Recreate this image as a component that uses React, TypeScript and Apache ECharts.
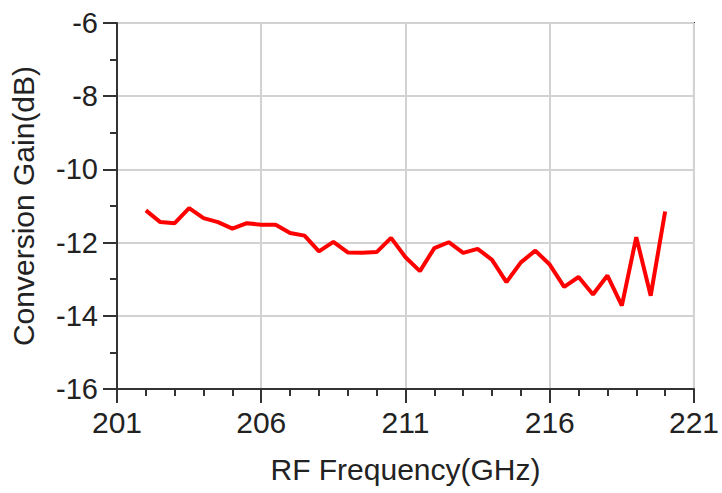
import React, { useEffect, useRef } from "react";
import * as echarts from "echarts";

const frequencies = [
  202, 202.5, 203, 203.5, 204, 204.5, 205, 205.5, 206, 206.5, 207, 207.5, 208,
  208.5, 209, 209.5, 210, 210.5, 211, 211.5, 212, 212.5, 213, 213.5, 214, 214.5,
  215, 215.5, 216, 216.5, 217, 217.5, 218, 218.5, 219, 219.5, 220,
];
const gains = [
  -11.12, -11.44, -11.47, -11.06, -11.33, -11.44, -11.62, -11.47, -11.51, -11.51,
  -11.74, -11.81, -12.24, -11.98, -12.27, -12.28, -12.26, -11.87, -12.4, -12.78,
  -12.15, -11.99, -12.28, -12.17, -12.47, -13.08, -12.54, -12.22, -12.6, -13.21,
  -12.94, -13.42, -12.9, -13.72, -11.85, -13.45, -11.15,
];
const xRange = [201, 221];
const yRange = [-16, -6];
const xTitle = "RF Frequency(GHz)";
const yTitle = "Conversion Gain(dB)";

const FONT = "'Liberation Sans', Arial, Helvetica, sans-serif";

export default function App() {
  const ref = useRef<HTMLDivElement>(null);
  useEffect(() => {
    document.body.style.margin = "0";
    if (!ref.current) return;
    const chart = echarts.init(ref.current, undefined, { renderer: "svg" });
    const axisColor = "#333333";
    chart.setOption({
      animation: false,
      backgroundColor: "#ffffff",
      grid: {
        left: 116,
        right: 22.5,
        top: 23,
        bottom: 104,
        show: true,
        borderColor: axisColor,
        borderWidth: 2,
        backgroundColor: "transparent",
      },
      xAxis: {
        type: "value",
        min: xRange[0],
        max: xRange[1],
        interval: 5,
        name: xTitle,
        nameLocation: "middle",
        nameGap: 65,
        nameTextStyle: { fontFamily: FONT, fontSize: 30, color: "#222" },
        axisLine: { show: true, lineStyle: { color: axisColor, width: 2 } },
        axisTick: { show: true, length: 14, lineStyle: { color: axisColor, width: 2 } },
        minorTick: { show: true, splitNumber: 5, length: 7, lineStyle: { color: axisColor, width: 2 } },
        axisLabel: { fontFamily: FONT, fontSize: 30, color: "#222", margin: 18 },
        splitLine: { show: true, lineStyle: { color: "#d2d2d2", width: 2 } },
      },
      yAxis: {
        type: "value",
        min: yRange[0],
        max: yRange[1],
        interval: 2,
        name: yTitle,
        nameLocation: "middle",
        nameGap: 79,
        nameTextStyle: { fontFamily: FONT, fontSize: 30, color: "#222" },
        axisLine: { show: true, lineStyle: { color: axisColor, width: 2 } },
        axisTick: { show: true, length: 14, lineStyle: { color: axisColor, width: 2 } },
        minorTick: { show: true, splitNumber: 2, length: 7, lineStyle: { color: axisColor, width: 2 } },
        axisLabel: { fontFamily: FONT, fontSize: 29, color: "#222", margin: 19 },
        splitLine: { show: true, lineStyle: { color: "#d2d2d2", width: 2 } },
      },
      series: [
        {
          type: "line",
          data: frequencies.map((f, i) => [f, gains[i]]),
          showSymbol: false,
          symbol: "none",
          lineStyle: { color: "#ff0000", width: 4 },
          z: 5,
        },
      ],
    });
    return () => chart.dispose();
  }, []);
  return <div ref={ref} style={{ width: 722, height: 493 }} />;
}
